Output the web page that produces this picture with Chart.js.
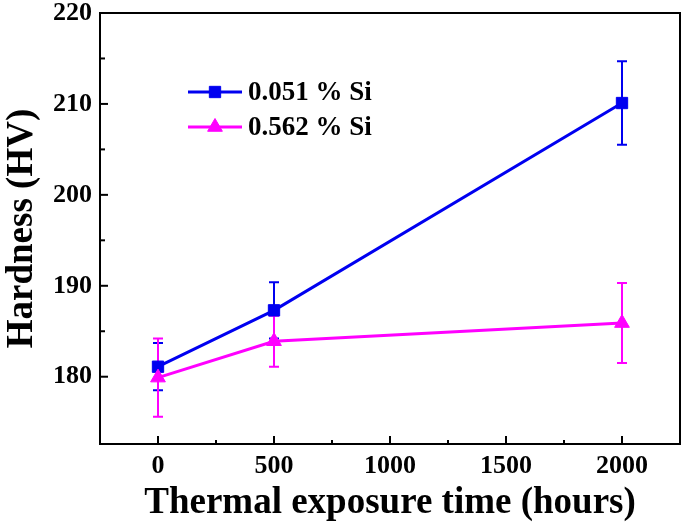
<!DOCTYPE html>
<html>
<head>
<meta charset="utf-8">
<script src="https://cdn.jsdelivr.net/npm/chart.js@4"></script>
<style>
  html, body { margin: 0; padding: 0; background: #fff; overflow: hidden; }
  canvas { display: block; }
</style>
</head>
<body>
<canvas id="hardnessChart" width="685" height="528"></canvas>
<script>
const hours = [0, 500, 2000];
const seriesNames = ['0.051 % Si', '0.562 % Si'];
const hardnessLowSi = [181.1, 187.3, 210.1];
const errorLowSi = [2.6, 3.1, 4.6];
const hardnessHighSi = [179.9, 183.9, 185.9];
const errorHighSi = [4.3, 2.8, 4.4];
const xTickLabels = [0, 500, 1000, 1500, 2000];
const yTickLabels = [180, 190, 200, 210, 220];

const FONT = "'Liberation Serif', 'Times New Roman', serif";

function toPoints(xs, ys) {
  return xs.map((x, i) => ({ x: x, y: ys[i] }));
}

// error bars, drawn under the markers
const errorBars = {
  id: 'errorBars',
  beforeDatasetsDraw(chart) {
    const ctx = chart.ctx;
    const xs = chart.scales.x, ys = chart.scales.y;
    chart.data.datasets.forEach(ds => {
      ctx.save();
      ctx.strokeStyle = ds.borderColor;
      ctx.lineWidth = 2;
      ds.data.forEach((p, i) => {
        const e = ds.errors[i];
        const px = xs.getPixelForValue(p.x);
        const top = ys.getPixelForValue(p.y + e);
        const bot = ys.getPixelForValue(p.y - e);
        ctx.beginPath();
        ctx.moveTo(px, top); ctx.lineTo(px, bot);
        ctx.moveTo(px - 5, top); ctx.lineTo(px + 5, top);
        ctx.moveTo(px - 5, bot); ctx.lineTo(px + 5, bot);
        ctx.stroke();
      });
      ctx.restore();
    });
  }
};

// frame + inward ticks + legend inside the plot
const frameAndLegend = {
  id: 'frameAndLegend',
  afterDraw(chart) {
    const ctx = chart.ctx;
    const a = chart.chartArea;
    ctx.save();
    ctx.strokeStyle = '#000';
    ctx.lineWidth = 2;
    ctx.strokeRect(a.left, a.top, a.right - a.left, a.bottom - a.top);

    const xs = chart.scales.x;
    xs.ticks.forEach(t => {
      if (t.value <= xs.min || t.value >= xs.max) return;
      const px = xs.getPixelForValue(t.value);
      const len = t.value % 500 === 0 ? 8 : 4;
      ctx.beginPath();
      ctx.moveTo(px, a.bottom); ctx.lineTo(px, a.bottom - len);
      ctx.stroke();
    });
    const ys = chart.scales.y;
    ys.ticks.forEach(t => {
      if (t.value <= ys.min || t.value >= ys.max) return;
      const py = ys.getPixelForValue(t.value);
      const len = Math.round(t.value) % 10 === 0 ? 8 : 5;
      ctx.beginPath();
      ctx.moveTo(a.left, py); ctx.lineTo(a.left + len, py);
      ctx.stroke();
    });

    // legend
    const lx = a.left + 88, ly = a.top + 79, rowH = 35;
    chart.data.datasets.forEach((ds, i) => {
      const y = ly + i * rowH;
      ctx.strokeStyle = ds.borderColor;
      ctx.fillStyle = ds.backgroundColor;
      ctx.lineWidth = 3;
      ctx.beginPath();
      ctx.moveTo(lx, y); ctx.lineTo(lx + 54, y);
      ctx.stroke();
      ctx.lineWidth = 1;
      Chart.helpers.drawPoint(ctx, {
        pointStyle: ds.pointStyle,
        radius: ds.pointRadius,
        borderWidth: 1
      }, lx + 27, y);
      ctx.fillStyle = '#000';
      ctx.font = 'bold 27px ' + FONT;
      ctx.textBaseline = 'middle';
      ctx.textAlign = 'left';
      ctx.fillText(ds.label, lx + 60, y + 1);
    });
    ctx.restore();
  }
};

const blue = '#0000f0';
const magenta = '#ff00ff';

new Chart(document.getElementById('hardnessChart'), {
  type: 'scatter',
  data: {
    datasets: [{
      label: seriesNames[0],
      data: toPoints(hours, hardnessLowSi),
      errors: errorLowSi,
      showLine: true,
      borderColor: blue,
      backgroundColor: blue,
      borderWidth: 3,
      pointStyle: 'rect',
      pointRadius: 8,
      pointBorderWidth: 1,
      order: 2
    }, {
      label: seriesNames[1],
      data: toPoints(hours, hardnessHighSi),
      errors: errorHighSi,
      showLine: true,
      borderColor: magenta,
      backgroundColor: magenta,
      borderWidth: 3,
      pointStyle: 'triangle',
      pointRadius: 8.5,
      pointBorderWidth: 1,
      order: 1
    }]
  },
  options: {
    responsive: false,
    animation: false,
    devicePixelRatio: 1,
    layout: { autoPadding: false, padding: { top: 13, right: 5, left: 0, bottom: 0 } },
    plugins: {
      legend: { display: false },
      tooltip: { enabled: false }
    },
    scales: {
      x: {
        type: 'linear',
        min: -250,
        max: 2250,
        grid: { display: false, drawTicks: true, tickLength: 7 },
        border: { display: false },
        ticks: {
          stepSize: 250,
          padding: 0,
          color: '#000',
          font: { family: FONT, size: 26, weight: 'bold' },
          maxRotation: 0,
          autoSkip: false,
          callback: v => xTickLabels.includes(v) ? String(v) : ''
        },
        title: {
          display: true,
          text: 'Thermal exposure time (hours)',
          color: '#000',
          font: { family: FONT, size: 37, weight: 'bold' },
          padding: { top: 0, bottom: 2 }
        },
        afterFit: s => { s.height = 84; s.paddingLeft = 0; s.paddingRight = 0; }
      },
      y: {
        min: 172.6,
        max: 220,
        grid: { display: false, drawTicks: true, tickLength: 8 },
        border: { display: false },
        afterBuildTicks: s => {
          s.ticks = s.ticks.filter(t => Math.abs(t.value / 5 - Math.round(t.value / 5)) < 1e-6);
        },
        ticks: {
          stepSize: 5,
          padding: 0,
          color: '#000',
          font: { family: FONT, size: 26, weight: 'bold' },
          autoSkip: false,
          callback: v => yTickLabels.includes(Math.round(v)) && Math.abs(v - Math.round(v)) < 1e-6 ? String(Math.round(v)) : ''
        },
        title: {
          display: true,
          text: 'Hardness (HV)',
          color: '#000',
          font: { family: FONT, size: 37, weight: 'bold' },
          padding: { top: 0, bottom: 0 }
        },
        afterFit: s => { s.width = 100; s.paddingTop = 0; s.paddingBottom = 0; }
      }
    }
  },
  plugins: [errorBars, frameAndLegend]
});
</script>
</body>
</html>
